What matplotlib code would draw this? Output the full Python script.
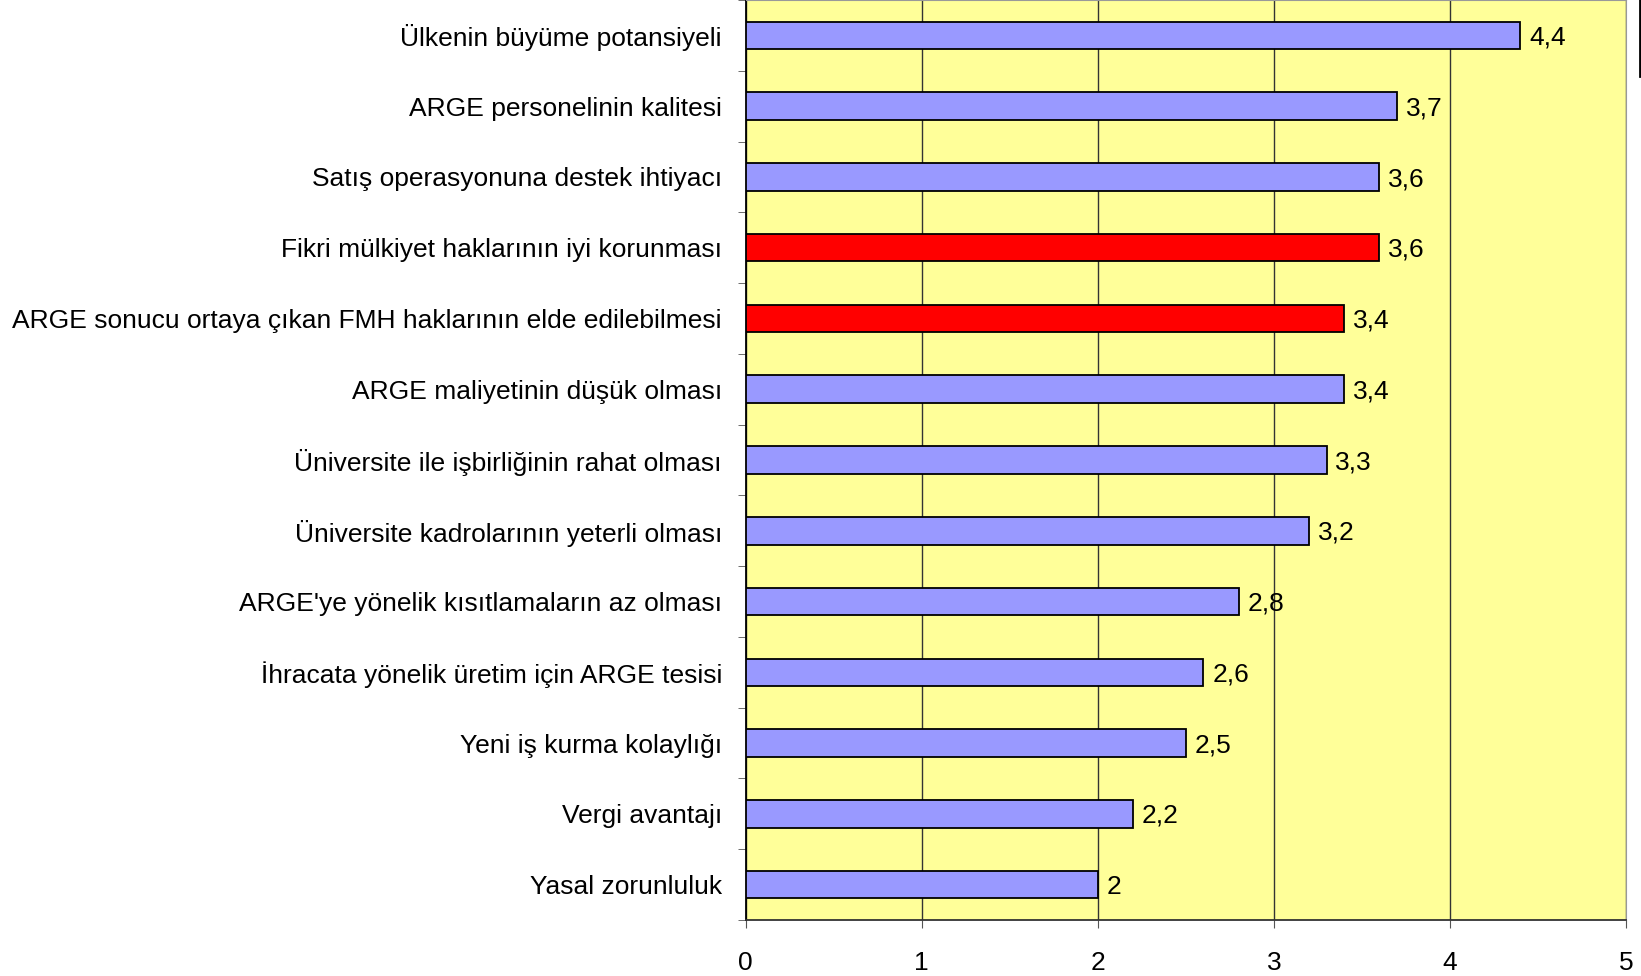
import matplotlib
matplotlib.use("Agg")
import matplotlib.pyplot as plt
from matplotlib.lines import Line2D
import numpy as np

labels = [
    "Ülkenin büyüme potansiyeli",
    "ARGE personelinin kalitesi",
    "Satış operasyonuna destek ihtiyacı",
    "Fikri mülkiyet haklarının iyi korunması",
    "ARGE sonucu ortaya çıkan FMH haklarının elde edilebilmesi",
    "ARGE maliyetinin düşük olması",
    "Üniversite ile işbirliğinin rahat olması",
    "Üniversite kadrolarının yeterli olması",
    "ARGE'ye yönelik kısıtlamaların az olması",
    "İhracata yönelik üretim için ARGE tesisi",
    "Yeni iş kurma kolaylığı",
    "Vergi avantajı",
    "Yasal zorunluluk",
]
values = [4.4, 3.7, 3.6, 3.6, 3.4, 3.4, 3.3, 3.2, 2.8, 2.6, 2.5, 2.2, 2.0]
highlighted = [3, 4]

plt.rcParams["font.family"] = ["Liberation Sans", "DejaVu Sans"]
FS = 19

fig = plt.figure(figsize=(16.41, 9.76), dpi=100)
ax = fig.add_axes([745.6 / 1641, 1 - 920 / 976, (1626 - 745.6) / 1641, 920 / 976])
ax.set_facecolor("#FFFF99")

n = len(labels)
y = np.arange(n)[::-1]
colors = ["#FF0000" if i in highlighted else "#9999FF" for i in range(n)]
ax.barh(y, values, height=0.39, color=colors, edgecolor="black", linewidth=1.3, zorder=3)

for yi, v in zip(y, values):
    txt = ("%g" % v).replace(".", ",")
    ax.text(v + 0.05, yi - 0.03, txt, va="center", ha="left", fontsize=FS, zorder=4)

ax.set_xlim(0, 5)
ax.set_ylim(-0.5, n - 0.5)
ax.set_xticks(range(6))
ax.tick_params(axis="x", labelsize=FS, length=6, color="#555555", pad=16)
ax.set_yticks(y)
ax.set_yticklabels(labels, fontsize=FS)
ax.tick_params(axis="y", which="major", length=0, pad=17)
ax.set_yticks(np.arange(-0.5, n, 1.0), minor=True)
ax.tick_params(axis="y", which="minor", length=6, color="#555555")

ax.grid(axis="x", color="#333333", linewidth=1.0, zorder=1)
ax.spines["left"].set_color("black")
ax.spines["left"].set_linewidth(1.3)
ax.spines["bottom"].set_color("#333333")
ax.spines["bottom"].set_linewidth(1.3)
ax.spines["right"].set_color("#999999")
ax.spines["top"].set_color("#999999")

# stray border of the original frame at the top right corner
fig.add_artist(Line2D([1640 / 1641, 1640 / 1641], [1, 1 - 76 / 976], color="black", linewidth=2))

fig.savefig("out.png", dpi=100)
